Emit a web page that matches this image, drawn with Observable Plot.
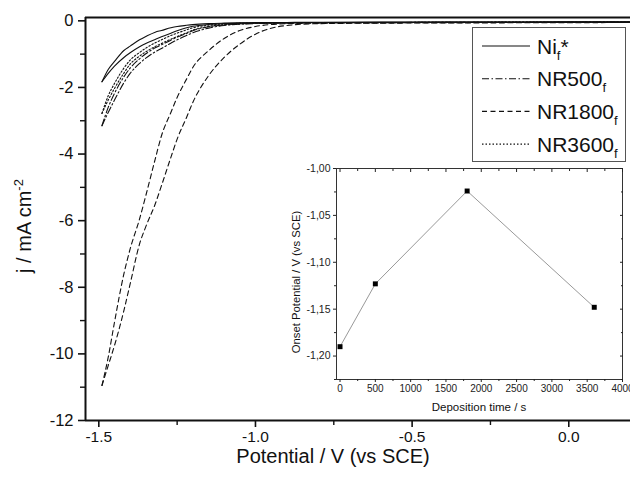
<!DOCTYPE html>
<html><head><meta charset="utf-8">
<script src="https://cdn.jsdelivr.net/npm/d3@7"></script>
<script src="https://cdn.jsdelivr.net/npm/@observablehq/plot@0.6"></script>
<style>
body{margin:0;background:#fff;}
#wrap{position:relative;width:630px;height:485px;overflow:hidden;font-family:"Liberation Sans",Arial,sans-serif;}
#main{position:absolute;left:0;top:0;}
#inset{position:absolute;left:270px;top:160px;}
#legend{position:absolute;left:472px;top:27px;}
</style></head><body>
<div id="wrap"><div id="main"></div><div id="inset"></div><div id="legend"></div></div>
<script>
// ---------- main chart data ----------
const potential = [-1.49,-1.47,-1.45,-1.42,-1.40,-1.37,-1.35,-1.32,-1.30,-1.27,-1.25,-1.22,-1.20,-1.15,-1.10,-1.05,-1.00,-0.95,-0.90,-0.85,-0.80,-0.60,-0.40,-0.20,0.00,0.20];
const niScanA = [-1.83,-1.46,-1.22,-0.89,-0.76,-0.57,-0.47,-0.34,-0.29,-0.21,-0.17,-0.135,-0.115,-0.085,-0.07,-0.06,-0.055,-0.05,-0.05,-0.045,-0.045,-0.04,-0.04,-0.035,-0.03,-0.03];
const niScanB = [-1.83,-1.58,-1.36,-1.10,-0.96,-0.78,-0.68,-0.56,-0.48,-0.37,-0.30,-0.21,-0.165,-0.11,-0.085,-0.07,-0.06,-0.055,-0.05,-0.05,-0.05,-0.045,-0.04,-0.04,-0.035,-0.035];
const nr500ScanA = [-3.15,-2.60,-2.18,-1.68,-1.42,-1.14,-0.99,-0.81,-0.72,-0.58,-0.49,-0.38,-0.30,-0.18,-0.12,-0.09,-0.075,-0.065,-0.06,-0.055,-0.05,-0.05,-0.045,-0.045,-0.04,-0.04];
const nr500ScanB = [-3.15,-2.75,-2.38,-1.86,-1.58,-1.28,-1.12,-0.93,-0.83,-0.67,-0.57,-0.44,-0.36,-0.22,-0.14,-0.10,-0.08,-0.07,-0.065,-0.06,-0.06,-0.055,-0.05,-0.05,-0.045,-0.045];
const nr1800ScanA = [-10.95,-10.10,-9.05,-7.60,-6.85,-5.95,-5.25,-4.15,-3.45,-2.75,-2.30,-1.75,-1.40,-0.90,-0.53,-0.29,-0.17,-0.11,-0.085,-0.075,-0.07,-0.06,-0.055,-0.05,-0.05,-0.045];
const nr1800ScanB = [-10.95,-10.35,-9.75,-8.70,-7.90,-6.70,-6.18,-5.50,-4.95,-4.10,-3.55,-2.90,-2.45,-1.65,-1.10,-0.70,-0.40,-0.22,-0.14,-0.10,-0.085,-0.07,-0.065,-0.06,-0.055,-0.05];
const nr3600ScanA = [-2.78,-2.25,-1.88,-1.42,-1.18,-0.95,-0.82,-0.66,-0.57,-0.44,-0.37,-0.27,-0.21,-0.13,-0.09,-0.075,-0.065,-0.06,-0.055,-0.05,-0.05,-0.05,-0.045,-0.04,-0.04,-0.04];
const nr3600ScanB = [-2.78,-2.38,-2.03,-1.57,-1.30,-1.06,-0.93,-0.77,-0.68,-0.55,-0.47,-0.36,-0.28,-0.17,-0.115,-0.09,-0.075,-0.07,-0.065,-0.06,-0.055,-0.05,-0.05,-0.045,-0.045,-0.04];
const seriesKeys = ["Ni", "NR500", "NR1800", "NR3600"];
const seriesScans = [[niScanA, niScanB],[nr500ScanA, nr500ScanB],[nr1800ScanA, nr1800ScanB],[nr3600ScanA, nr3600ScanB]];
const xDomain = [-1.5425, 0.197];
const yDomain = [-12, 0.1];
const xTicks = [-1.5, -1.0, -0.5, 0.0];
const xMinorTicks = [-1.25, -0.75, -0.25];
const yTicks = [0, -2, -4, -6, -8, -10, -12];
const yMinorTicks = [-1, -3, -5, -7, -9, -11];

// ---------- inset data ----------
const depositionTime = [0, 500, 1800, 3600];
const onsetPotential = [-1.19, -1.123, -1.024, -1.148];
const insetXDomain = [-50, 4000];
const insetYDomain = [-1.225, -1.0];
const insetXTicks = [0, 500, 1000, 1500, 2000, 2500, 3000, 3500, 4000];
const insetXMinor = [250, 750, 1250, 1750, 2250, 2750, 3250, 3750];
const insetYTicks = [-1.20, -1.15, -1.10, -1.05, -1.00];
const insetYMinor = [-1.225, -1.175, -1.125, -1.075, -1.025];

// styles (not data)
const dashes = {Ni: null, NR500: "7,2.5,1.5,2.5", NR1800: "5,3.5", NR3600: "1.5,2"};

const rows = [];
seriesKeys.forEach((k, si) => {
  seriesScans[si].forEach((scan, bi) => {
    potential.forEach((v, i) => rows.push({series: k, branch: k + bi, V: v, j: scan[i]}));
  });
});

const font = '"Liberation Sans", Arial, sans-serif';
const lineMarks = seriesKeys.map(k => Plot.line(rows.filter(r => r.series === k), {
  x: "V", y: "j", z: "branch", stroke: "#111", strokeWidth: 1.1,
  strokeDasharray: dashes[k] || undefined, curve: "monotone-x", clip: true
}));

const main = Plot.plot({
  width: 630, height: 485,
  marginLeft: 85, marginRight: 0, marginTop: 17, marginBottom: 65,
  x: {domain: xDomain},
  y: {domain: yDomain},
  style: {fontFamily: font, fontSize: "16px", background: "white", color: "#111"},
  marks: [
    Plot.axisX({ticks: xTicks, tickFormat: d => d.toFixed(1), tickSize: 7, tickPadding: 3, label: null, fontSize: 15.5, strokeWidth: 1.6}),
    Plot.axisX({ticks: xMinorTicks, tickFormat: () => "", tickSize: 5, label: null, strokeWidth: 1.4}),
    Plot.axisY({ticks: yTicks, tickFormat: d => String(d), tickSize: 7, tickPadding: 5, label: null, fontSize: 16.5, strokeWidth: 1.6}),
    Plot.axisY({ticks: yMinorTicks, tickFormat: () => "", tickSize: 5, label: null, strokeWidth: 1.4}),
    Plot.ruleY([yDomain[0]], {stroke: "#111", strokeWidth: 2}),
    Plot.ruleY([yDomain[1]], {stroke: "#111", strokeWidth: 2}),
    Plot.ruleX([xDomain[0]], {stroke: "#111", strokeWidth: 2}),
    ...lineMarks
  ]
});
document.getElementById("main").appendChild(main);
const ms = d3.select(main);
ms.append("text").attr("x", 333).attr("y", 463).attr("text-anchor", "middle")
  .attr("font-size", 20).attr("font-family", font).attr("fill", "#111").text("Potential / V (vs SCE)");
const yl = ms.append("text").attr("transform", "translate(31,226) rotate(-90)").attr("text-anchor", "middle")
  .attr("font-size", 20).attr("font-family", font).attr("fill", "#111");
yl.append("tspan").text("j / mA cm");
yl.append("tspan").attr("dy", -8).attr("font-size", 13).text("-2");

// ---------- inset ----------
const insetRows = depositionTime.map((t, i) => ({t, p: onsetPotential[i]}));
const commaFmt = d => d.toFixed(2).replace(".", ",");
const inset = Plot.plot({
  width: 360, height: 255,
  marginLeft: 66, marginRight: 8, marginTop: 8, marginBottom: 36,
  x: {domain: insetXDomain},
  y: {domain: insetYDomain},
  style: {fontFamily: font, fontSize: "10px", background: "transparent", color: "#222"},
  marks: [
    Plot.frame({stroke: "#333", strokeWidth: 1}),
    Plot.axisX({ticks: insetXTicks, tickFormat: d => String(d), tickSize: 3, tickPadding: 2, label: null, fontSize: 10}),
    Plot.axisX({ticks: insetXMinor, tickFormat: () => "", tickSize: 2, label: null}),
    Plot.axisX({anchor: "top", ticks: insetXTicks, tickFormat: () => "", tickSize: -3, label: null}),
    Plot.axisX({anchor: "top", ticks: insetXMinor, tickFormat: () => "", tickSize: -2, label: null}),
    Plot.axisY({ticks: insetYTicks, tickFormat: commaFmt, tickSize: 3, tickPadding: 3, label: null, fontSize: 10.5}),
    Plot.axisY({ticks: insetYMinor, tickFormat: () => "", tickSize: 2, label: null}),
    Plot.axisY({anchor: "right", ticks: insetYTicks, tickFormat: () => "", tickSize: -3, label: null}),
    Plot.axisY({anchor: "right", ticks: insetYMinor, tickFormat: () => "", tickSize: -2, label: null}),
    Plot.line(insetRows, {x: "t", y: "p", stroke: "#999", strokeWidth: 1}),
    Plot.dot(insetRows, {x: "t", y: "p", symbol: "square", fill: "#000", r: 2.8})
  ]
});
document.getElementById("inset").appendChild(inset);
const is = d3.select(inset);
is.append("text").attr("x", 209).attr("y", 251).attr("text-anchor", "middle")
  .attr("font-size", 11.5).attr("font-family", font).attr("fill", "#111").text("Deposition time / s");
is.append("text").attr("transform", "translate(30,122) rotate(-90)").attr("text-anchor", "middle")
  .attr("font-size", 11.3).attr("font-family", font).attr("fill", "#111").text("Onset Potential / V (vs SCE)");

// ---------- legend ----------
const legendLabels = [["Ni", "f", "*"], ["NR500", "f", ""], ["NR1800", "f", ""], ["NR3600", "f", ""]];
const lg = d3.select("#legend").append("svg").attr("width", 155).attr("height", 136);
lg.append("rect").attr("x", 0.5).attr("y", 0.5).attr("width", 153).attr("height", 134)
  .attr("fill", "white").attr("stroke", "#555").attr("stroke-width", 1);
legendLabels.forEach((lab, i) => {
  const cy = 19 + i * 32.7;
  const k = seriesKeys[i];
  const ln = lg.append("line").attr("x1", 10).attr("x2", 58).attr("y1", cy).attr("y2", cy)
    .attr("stroke", "#111").attr("stroke-width", 1.1);
  if (dashes[k]) ln.attr("stroke-dasharray", dashes[k]);
  const t = lg.append("text").attr("x", 65).attr("y", cy + 7.5).attr("font-size", 21)
    .attr("font-family", font).attr("fill", "#111");
  t.append("tspan").text(lab[0]);
  t.append("tspan").attr("dy", 6).attr("font-size", 13).text(lab[1]);
  if (lab[2]) t.append("tspan").attr("dy", -6).text(lab[2]);
});
</script>
</body></html>
